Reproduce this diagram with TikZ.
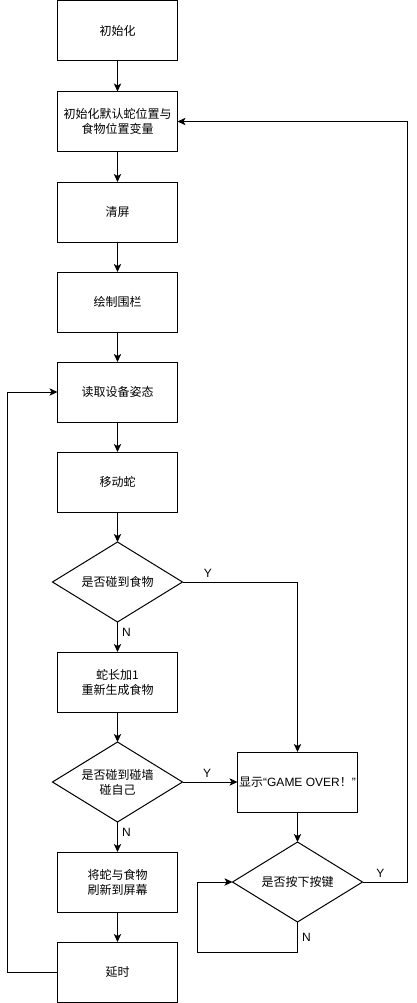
\documentclass[tikz,border=0pt]{standalone}
\usepackage{fontspec}
\setmainfont{Liberation Sans}
\newfontfamily\cjk{Noto Sans CJK SC}
\usetikzlibrary{arrows.meta,shapes.geometric}

\begin{document}
\begin{tikzpicture}[>={Stealth[length=6pt,width=5.5pt,inset=1.5pt]},
	x=0.75pt,y=-0.75pt,line width=0.75pt,
	box/.style={draw,minimum width=90pt,minimum height=45pt,inner sep=0.5pt,
		outer sep=0pt,align=center,font=\cjk\fontsize{9}{11.25}\selectfont},
	cond/.style={draw,diamond,aspect=1.625,minimum width=97.5pt,minimum height=60pt,
		inner sep=0pt,outer sep=0pt,align=center,font=\cjk\fontsize{9}{11.25}\selectfont},
	lab/.style={font=\fontsize{9}{11}\selectfont,inner sep=3pt}]

\useasboundingbox (0,0) rectangle (417,1003);

% main column
\node[box] (init) at (117.5,30.5) {初始化};
\node[box] (vars) at (117.5,121.5) {初始化默认蛇位置与\\食物位置变量};
\node[box] (clr) at (117.5,212) {清屏};
\node[box] (fence) at (117.5,302) {绘制围栏};
\node[box] (read) at (117.5,392) {读取设备姿态};
\node[box] (move) at (117.5,482) {移动蛇};
\node[cond] (food) at (117.5,582) {是否碰到食物};
\node[box] (grow) at (117.5,682) {蛇长加1\\重新生成食物};
\node[cond] (hit) at (117.5,782) {是否碰到碰墙\\碰自己};
\node[box] (flush) at (117.5,882) {将蛇与食物\\刷新到屏幕};
\node[box] (delay) at (117.5,972) {延时};

% game over column
\node[box] (over) at (297.5,782)
	{显示{\rmfamily“GAME OVER}！{\rmfamily ”}};
\node[cond] (key) at (297.5,882) {是否按下按键};

\coordinate (rt) at (407.3,0);
\coordinate (lf) at (7.3,0);
\coordinate (lp) at (197.3,952);

\draw[->] (init) -- (vars);
\draw[->] (vars) -- (clr);
\draw[->] (clr) -- (fence);
\draw[->] (fence) -- (read);
\draw[->] (read) -- (move);
\draw[->] (move) -- (food);
\draw[->] (food) -- node[lab,right,pos=0.33] (fn) {N} (grow);
\draw[->] (grow) -- (hit);
\draw[->] (hit) -- node[lab,right,pos=0.33] (hn) {N} (flush);
\draw[->] (flush) -- (delay);

\draw[->] (food.east) -- node[lab,above,pos=0.22] (fy) {Y}
	(food.east -| over.north) -- (over.north);
\draw[->] (hit.east) -- node[lab,above,pos=0.45] (hy) {Y} (over.west);
\draw[->] (over) -- (key);

\draw[->] (key.east) -- node[lab,above,pos=0.4] (ky) {Y}
	(key.east -| rt) -- (vars.east -| rt) -- (vars.east);
\draw[->] (key.south) -- node[lab,right,pos=0.5] (kn) {N}
	(key.south |- lp) -- (lp) |- (key.west);

\draw[->] (delay.west) -- (delay.west -| lf) -- (read.west -| lf) -- (read.west);

\end{tikzpicture}
\end{document}
